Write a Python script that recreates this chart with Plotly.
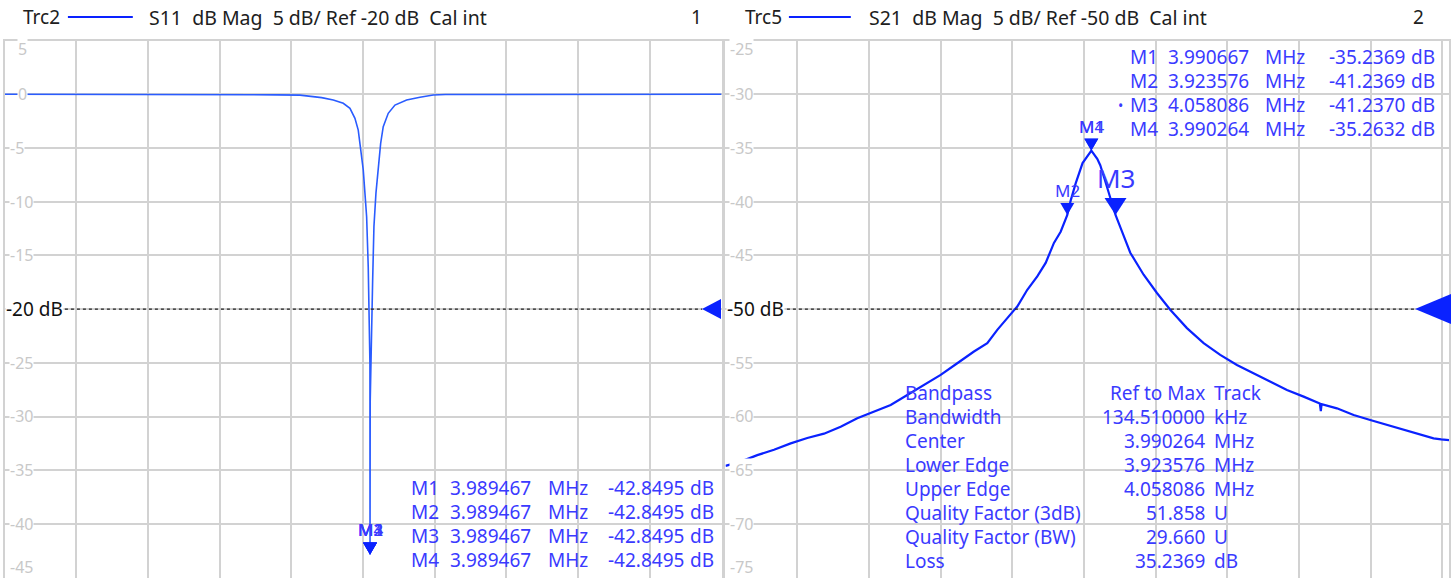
import plotly.graph_objects as go

# ---------------- data ----------------
s11_freq_mhz = [2.97, 3.20, 3.50, 3.73, 3.794, 3.822, 3.8545, 3.8869, 3.9148, 3.9335,
                3.9474, 3.9566, 3.9633, 3.9706, 3.9753, 3.9800, 3.9845, 3.9892, 3.989467,
                3.9900, 3.9968, 4.0004, 4.0060, 4.0124, 4.0191, 4.0263, 4.0403, 4.0590,
                4.0916, 4.1287, 4.1658, 4.20, 4.50, 4.97]
s11_db = [0.0, 0.0, 0.0, -0.05, -0.08, -0.16, -0.31, -0.53, -0.84, -1.31,
          -2.24, -3.33, -4.94, -7.05, -9.23, -11.4, -16.1, -25.1, -42.8495,
          -28.6, -17.3, -12.3, -9.2, -6.75, -4.57, -3.02, -1.77, -1.0,
          -0.53, -0.28, -0.07, -0.02, 0.0, 0.0]

s21_freq_mhz = [2.97, 3.0124, 3.0587, 3.1053, 3.1519, 3.1982, 3.2448, 3.2913, 3.3376, 3.3842,
                3.4308, 3.4771, 3.5237, 3.5703, 3.6166, 3.6632, 3.7003, 3.7282, 3.7561, 3.7840,
                3.8119, 3.8398, 3.8632, 3.8863, 3.9050, 3.9142, 3.923576, 3.9329, 3.9469, 3.9661,
                3.990667, 4.0071, 4.0155, 4.0258, 4.0445, 4.058086, 4.0752, 4.0992, 4.1365, 4.1736,
                4.2107, 4.2573, 4.3039, 4.3502, 4.3968, 4.4434, 4.4897, 4.5363, 4.5828, 4.6280,
                4.6308, 4.6330, 4.6757, 4.7223, 4.7686, 4.8152, 4.8618, 4.9081, 4.9454, 4.9667,
                4.9900]
s21_db = [-64.6, -64.2, -63.6, -63.1, -62.5, -62.0, -61.6, -60.95, -60.17, -59.55,
          -58.93, -58.0, -57.06, -56.13, -55.04, -53.95, -53.17, -51.93, -50.84, -49.76,
          -48.2, -46.96, -45.7, -43.84, -42.8, -42.1, -41.2369, -39.9, -38.3, -36.4,
          -35.2369, -36.0, -36.6, -37.7, -39.7, -41.2370, -42.7, -44.75, -46.8, -48.5,
          -50.06, -51.77, -53.17, -54.26, -55.2, -55.97, -56.75, -57.53, -58.15, -58.8,
          -59.5, -58.85, -59.24, -59.86, -60.33, -60.79, -61.26, -61.73, -62.03, -62.13,
          -62.2]

s11_marker_names = ["M1", "M2", "M3", "M4"]
s11_marker_freq = [3.989467, 3.989467, 3.989467, 3.989467]
s11_marker_db = [-42.8495, -42.8495, -42.8495, -42.8495]

s21_marker_names = ["M1", "M2", "M3", "M4"]
s21_marker_freq = [3.990667, 3.923576, 4.058086, 3.990264]
s21_marker_db = [-35.2369, -41.2369, -41.2370, -35.2632]
s21_active_marker = "M3"

bp_labels = ["Bandpass", "Bandwidth", "Center", "Lower Edge", "Upper Edge",
             "Quality Factor (3dB)", "Quality Factor (BW)", "Loss"]
bp_values = ["Ref to Max", "134.510000", "3.990264", "3.923576", "4.058086",
             "51.858", "29.660", "35.2369"]
bp_units = ["Track", "kHz", "MHz", "MHz", "MHz", "U", "U", "dB"]

s11_header = "S11  dB Mag  5 dB/ Ref -20 dB  Cal int"
s21_header = "S21  dB Mag  5 dB/ Ref -50 dB  Cal int"
s11_ref_db = -20
s21_ref_db = -50
s11_yrange = [-45, 5]
s21_yrange = [-75, -25]
freq_start = 2.97
freq_div = 0.2

# ---------------- styling ----------------
W, H = 1451, 578
FONT = "Noto Sans"
GRID = "#d2d2d2"
TICKC = "#c8c8c8"
BLUE_TXT = "#3a3aff"
S11_COL = "#2a5cff"
S21_COL = "#0a22ff"
FS = 19


def px(x):
    return x / W


def py(y):
    return 1 - y / H


L_X0, L_X1 = 4.6, 722.5
R_X0, R_X1 = 726.5, 1451.0
Y_TOP, Y_BOT = 40.6, 577.6
PX_PER_MHZ = (L_X1 - L_X0) / 2.0
PX_PER_DB = (Y_BOT - Y_TOP) / 50.0
r_stop = freq_start + (R_X1 - R_X0) / PX_PER_MHZ

fig = go.Figure()
fig.add_trace(go.Scatter(x=s11_freq_mhz, y=s11_db, xaxis="x", yaxis="y", mode="lines",
                         line=dict(color=S11_COL, width=1.6), hoverinfo="skip"))
fig.add_trace(go.Scatter(x=s21_freq_mhz, y=s21_db, xaxis="x2", yaxis="y2", mode="lines",
                         line=dict(color=S21_COL, width=2.2), hoverinfo="skip"))

ax_common = dict(showticklabels=False, ticks="", showgrid=True, gridcolor=GRID, gridwidth=1.5,
                 zeroline=False, showline=True, linecolor=GRID, linewidth=1.5, mirror=True,
                 fixedrange=True)
ydom = [py(Y_BOT), py(Y_TOP)]
fig.update_layout(
    width=W, height=H, margin=dict(l=0, r=0, t=0, b=0),
    paper_bgcolor="white", plot_bgcolor="white", showlegend=False,
    font=dict(family=FONT, size=FS),
    xaxis=dict(domain=[px(L_X0), px(L_X1)], range=[freq_start, freq_start + 2.0],
               tick0=freq_start, dtick=freq_div, anchor="y", **ax_common),
    yaxis=dict(domain=ydom, range=s11_yrange, dtick=5, anchor="x", **ax_common),
    xaxis2=dict(domain=[px(R_X0), 1.0], range=[freq_start, r_stop],
                tick0=freq_start, dtick=freq_div, anchor="y2", **ax_common),
    yaxis2=dict(domain=ydom, range=s21_yrange, dtick=5, anchor="x2", **ax_common),
)

ann = []
shapes = []


def text(x, y, s, anchor="left", size=FS, color="#202020", bg=None, yanchor="middle",
         xref="paper", yref="paper", yshift=0):
    d = dict(x=x, y=y, xref=xref, yref=yref, text=s, showarrow=False, xanchor=anchor,
             yanchor=yanchor, font=dict(family=FONT, size=size, color=color), yshift=yshift,
             borderpad=0)
    if bg:
        d["bgcolor"] = bg
    ann.append(d)


nb = lambda s: s.replace(" ", "\u00a0")

# headers
for (x_trc, trc, x0l, x1l, x_h, hdr, x_num, num) in [
        (22, "Trc2", 68, 133, 148, s11_header, 697, "1"),
        (745, "Trc5", 790, 852, 869, s21_header, 1420, "2")]:
    text(px(x_trc), py(17), trc)
    text(px(x_h), py(17), nb(hdr), size=19.5)
    text(px(x_num), py(17), num, anchor="center")
    shapes.append(dict(type="line", xref="paper", yref="paper", x0=px(x0l), x1=px(x1l),
                       y0=py(17), y1=py(17), line=dict(color=S21_COL, width=2.2)))

# y tick labels (inside the grid, white background)
for (yr, yref, xl, ref_db) in [(s11_yrange, "y", L_X0, s11_ref_db), (s21_yrange, "y2", R_X0, s21_ref_db)]:
    v = yr[1]
    while v >= yr[0]:
        if v != ref_db:
            ya = "top" if v == yr[1] else ("bottom" if v == yr[0] else "middle")
            xoff = 4 if v < 0 else 12
            text(px(xl + xoff), v, str(v), size=16, color=TICKC, bg="white", yanchor=ya,
                 yref=yref, yshift=(4 if ya == "top" else (-1 if ya == "bottom" else 0)))
        v -= 5

# reference level lines / labels / arrows
for (yref, xl, xr_tip, ref_db, lbl_end, tri_w, tri_h) in [
        ("y", L_X0, 703, s11_ref_db, 65, 19, 10),
        ("y2", R_X0, 1417, s21_ref_db, 788, 36, 15)]:
    shapes.append(dict(type="line", xref="paper", yref=yref, x0=px(lbl_end), x1=px(xr_tip),
                       y0=ref_db, y1=ref_db, line=dict(color="#202020", width=1.2, dash="dot")))
    text(px(xl + 0.5), ref_db, f"{ref_db} dB", size=19, color="#111111", bg="white", yref=yref)
    dy = tri_h / PX_PER_DB
    shapes.append(dict(type="path", xref="paper", yref=yref, fillcolor="#0a22ff", line=dict(width=0),
                       path=f"M {px(xr_tip)},{ref_db} L {px(xr_tip + tri_w)},{ref_db + dy} "
                            f"L {px(xr_tip + tri_w)},{ref_db - dy} Z"))


def marker_tri(f, d, xref, yref, w, h):
    dx = w / 2 / PX_PER_MHZ
    dy = h / PX_PER_DB
    shapes.append(dict(type="path", xref=xref, yref=yref, fillcolor=S21_COL, line=dict(width=0),
                       path=f"M {f - dx},{d + dy} L {f + dx},{d + dy} L {f},{d} Z"))


# S11 markers (all on the same point)
for name, f, d in zip(s11_marker_names[::-1], s11_marker_freq[::-1], s11_marker_db[::-1]):
    marker_tri(f, d, "x", "y", 14, 12)
    text(f, d, name, anchor="center", size=17, color=BLUE_TXT, xref="x", yref="y",
         yanchor="bottom", yshift=13)

# S21 markers
for name, f, d in zip(s21_marker_names[::-1], s21_marker_freq[::-1], s21_marker_db[::-1]):
    if name == s21_active_marker:
        marker_tri(f, d, "x2", "y2", 22, 17)
        text(f, d, name, anchor="center", size=26, color=BLUE_TXT, xref="x2", yref="y2",
             yanchor="bottom", yshift=18)
    else:
        marker_tri(f, d, "x2", "y2", 14, 12)
        text(f, d, name, anchor="center", size=17, color=BLUE_TXT, xref="x2", yref="y2",
             yanchor="bottom", yshift=12)

# marker tables
for i, (name, f, d) in enumerate(zip(s11_marker_names, s11_marker_freq, s11_marker_db)):
    y = py(488 + 24 * i)
    text(px(411), y, name, color=BLUE_TXT)
    text(px(533), y, f"{f:.6f}", anchor="right", color=BLUE_TXT)
    text(px(548), y, "MHz", color=BLUE_TXT)
    text(px(686), y, f"{d:.4f}", anchor="right", color=BLUE_TXT)
    text(px(690), y, "dB", color=BLUE_TXT)

for i, (name, f, d) in enumerate(zip(s21_marker_names, s21_marker_freq, s21_marker_db)):
    y = py(57 + 24 * i)
    if name == s21_active_marker:
        text(px(1122), y, "•", anchor="center", size=14, color=BLUE_TXT)
    text(px(1131), y, name, color=BLUE_TXT)
    text(px(1252), y, f"{f:.6f}", anchor="right", color=BLUE_TXT)
    text(px(1266), y, "MHz", color=BLUE_TXT)
    text(px(1408), y, f"{d:.4f}", anchor="right", color=BLUE_TXT)
    text(px(1412), y, "dB", color=BLUE_TXT)

for i, (lab, val, unit) in enumerate(zip(bp_labels, bp_values, bp_units)):
    y = py(393 + 24 * i)
    text(px(905), y, nb(lab), color=BLUE_TXT)
    text(px(1208), y, nb(val), anchor="right", color=BLUE_TXT)
    text(px(1215), y, unit, color=BLUE_TXT)

fig.update_layout(annotations=ann, shapes=shapes)
fig.write_html("out.html", config={"displayModeBar": False},
               post_script="document.body.style.margin='0px';")
